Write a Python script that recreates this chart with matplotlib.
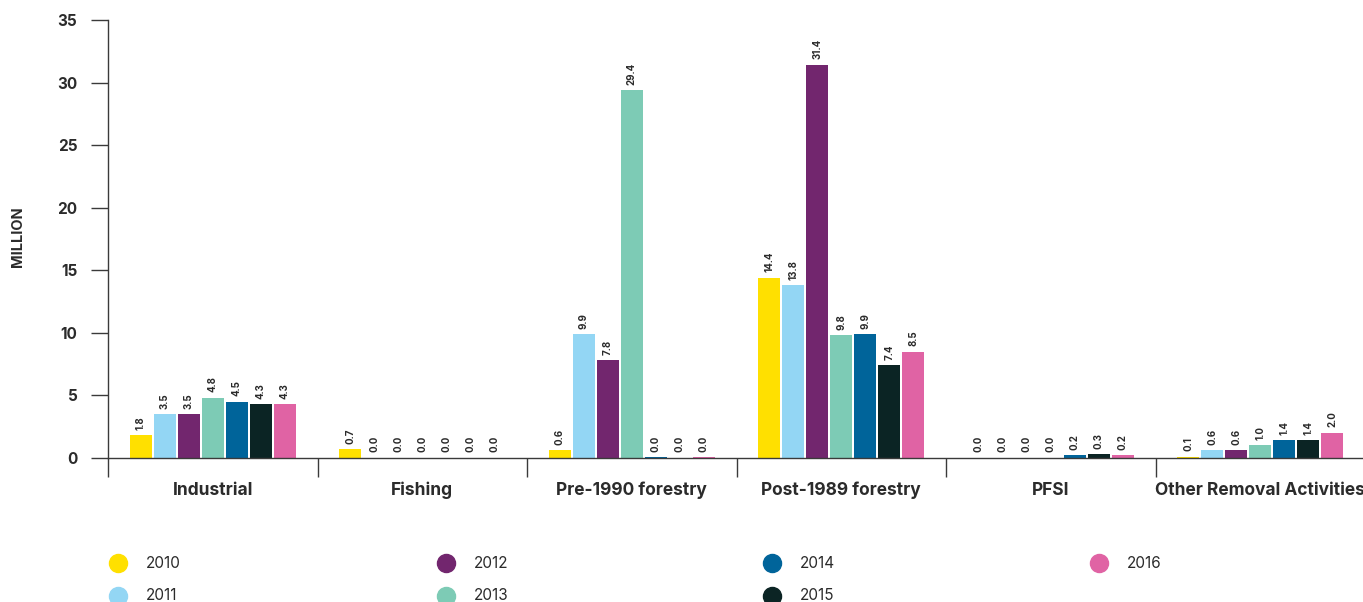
import matplotlib
matplotlib.use("Agg")
import matplotlib.pyplot as plt
from matplotlib.lines import Line2D
import numpy as np

categories = ["Industrial", "Fishing", "Pre-1990 forestry", "Post-1989 forestry",
              "PFSI", "Other Removal Activities"]
years = ["2010", "2011", "2012", "2013", "2014", "2015", "2016"]

v2010 = [1.8, 0.7, 0.6, 14.4, 0.0, 0.1]
v2011 = [3.5, 0.0, 9.9, 13.8, 0.0, 0.6]
v2012 = [3.5, 0.0, 7.8, 31.4, 0.0, 0.6]
v2013 = [4.8, 0.0, 29.4, 9.8, 0.0, 1.0]
v2014 = [4.5, 0.0, 0.04, 9.9, 0.2, 1.4]
v2015 = [4.3, 0.0, 0.0, 7.4, 0.3, 1.4]
v2016 = [4.3, 0.0, 0.04, 8.5, 0.2, 2.0]
series = [v2010, v2011, v2012, v2013, v2014, v2015, v2016]

colors = ["#FFE000", "#93D6F4", "#72266E", "#7DCBB5", "#00649A", "#0B2424", "#E063A4"]

yticks = [0, 5, 10, 15, 20, 25, 30, 35]

plt.rcParams["font.family"] = ["Inter", "DejaVu Sans"]
text_color = "#2b2b2b"
line_color = "#3a3a3a"

W, H = 1363, 602
fig = plt.figure(figsize=(W / 100, H / 100), dpi=100)
ax = fig.add_axes([108 / W, 144 / H, (1365 - 108) / W, 438 / H])

x = np.arange(len(categories))
step = 0.1145
width = 0.107
n = len(series)
for i, (vals, c) in enumerate(zip(series, colors)):
    pos = x + (i - (n - 1) / 2) * step
    ax.bar(pos, vals, width=width, color=c, zorder=2)
    for px, v in zip(pos, vals):
        ax.annotate(f"{v:.1f}", (px, v), xytext=(0, 4), textcoords="offset points",
                    rotation=90, ha="center", va="bottom", fontsize=7,
                    fontweight="bold", color=text_color)

ax.set_xlim(-0.5, len(categories) - 0.5)
ax.set_ylim(0, 35)
ax.set_yticks(yticks)
ax.set_yticklabels([str(t) for t in yticks])

ax.set_xticks(np.arange(-0.5, len(categories)), minor=False)
ax.set_xticklabels([])
ax.set_xticks(x, minor=True)
ax.set_xticklabels(categories, minor=True)
ax.tick_params(axis="x", which="major", length=14, width=1, color=line_color)
ax.tick_params(axis="x", which="minor", length=0, pad=17, labelsize=12.5,
               labelcolor=text_color)
ax.tick_params(axis="y", length=12, width=1, color=line_color, pad=10,
               labelsize=11, labelcolor=text_color)
for lbl in ax.get_xticklabels(minor=True) + ax.get_yticklabels():
    lbl.set_fontweight("bold")

for s in ["top", "right"]:
    ax.spines[s].set_visible(False)
for s in ["left", "bottom"]:
    ax.spines[s].set_color(line_color)
    ax.spines[s].set_linewidth(1)
ax.spines["left"].set_bounds(0, 35)

fig.text(18 / W, 1 - 237 / H, "MILLION", rotation=90, ha="center", va="center",
         fontsize=10.5, fontweight="bold", color=text_color)

# legend laid out in four columns, filled column by column
col_x = [118, 446, 772, 1099]
row_y = [563, 596]
for i, (yr, c) in enumerate(zip(years, colors)):
    cx = col_x[i // 2]
    cy = row_y[i % 2]
    fig.add_artist(Line2D([cx / W], [1 - cy / H], marker="o", markersize=13,
                          color=c, linestyle="none", transform=fig.transFigure))
    fig.text((cx + 28) / W, 1 - cy / H, yr, ha="left", va="center",
             fontsize=11, color=text_color)

fig.savefig("out.png", dpi=100)
